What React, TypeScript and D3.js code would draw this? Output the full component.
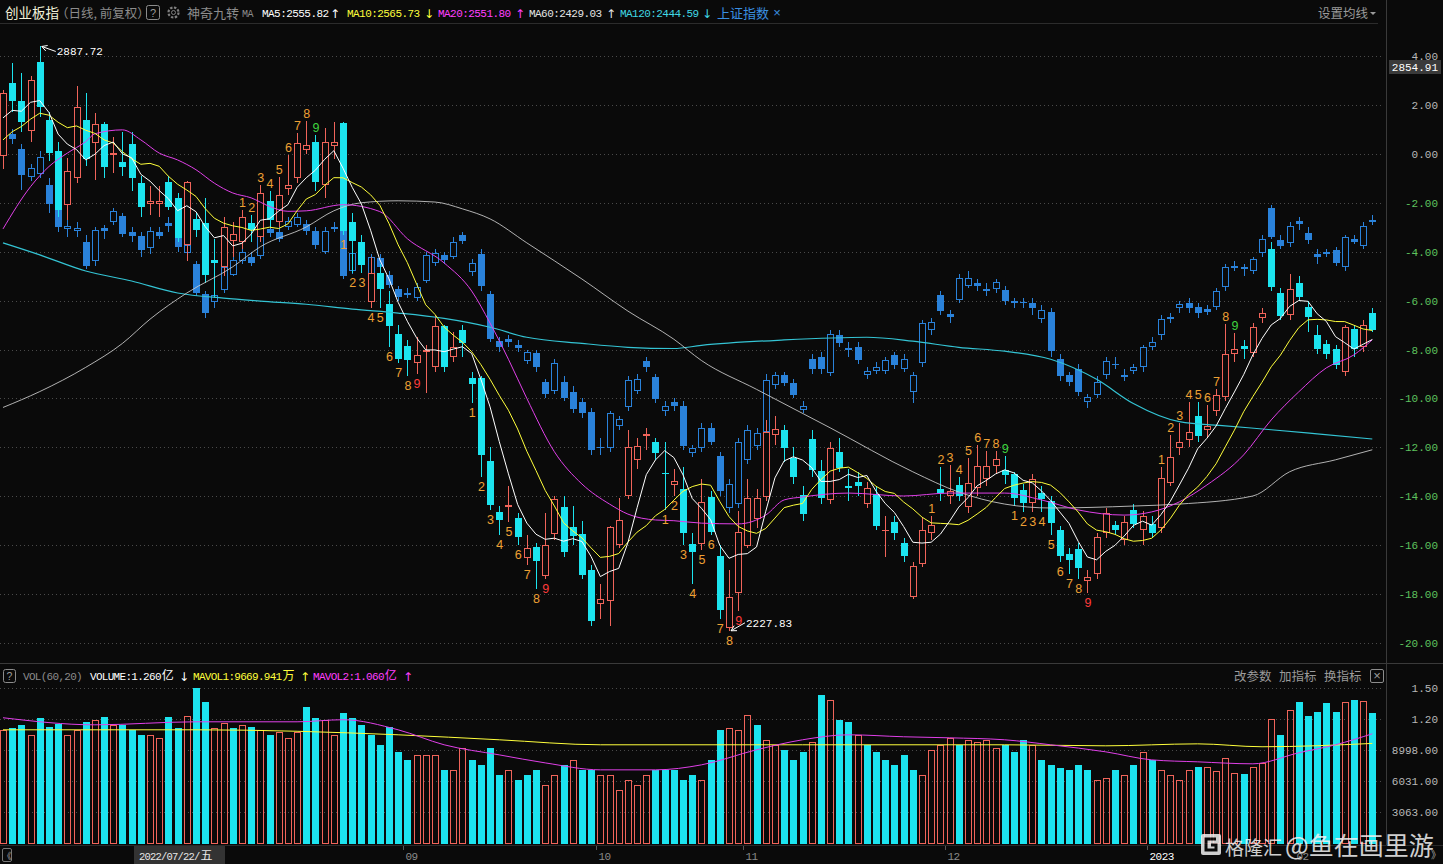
import React, { useEffect, useRef } from 'react';
import * as d3 from 'd3';

// 创业板指 daily bars, [open, high, low, close] as % change vs base
const cybBars: [number, number, number, number][] = [
  [-0.08, 2.6, -0.6, 2.49], [2.89, 3.7, 1.7, 2.14], [2.17, 3.3, 0.9, 1.32], [0.95, 3.2, 0.5, 3.03], [3.74, 4.39, 1.5, 1.91],
  [1.39, 1.7, -0.3, 0.05], [0.12, 0.5, -2.6, -2.29], [-2.11, -0.16, -2.7, -0.71], [-0.97, 2.76, -1.2, 1.91], [1.39, 2.48, -0.5, -0.2],
  [0.44, 1.67, -1.06, 1.21], [1.21, 1.3, -1.0, -0.52], [-0.05, 0.7, -0.8, 0.02], [-0.34, 0.9, -0.9, -0.52], [0.4, 0.9, -1.5, -0.99],
  [-1.2, -0.9, -2.6, -2.18], [-2.04, -1.3, -2.5, -1.91], [-2.04, -1.3, -2.6, -1.91], [-1.16, -0.9, -2.3, -2.18], [-1.79, -1.6, -3.6, -3.45],
  [-3.72, -1.1, -4.4, -1.16], [-2.67, -2.4, -3.4, -3.13], [-2.84, -1.81, -5.3, -4.95], [-4.36, -3.5, -5.9, -4.47], [-4.64, -2.6, -5.0, -3.0],
  [-3.55, -2.8, -4.2, -3.27], [-3.59, -2.31, -3.9, -2.59], [-2.84, -2.5, -3.6, -3.11], [-3.41, -1.29, -3.6, -1.61], [-1.92, -1.53, -3.0, -2.7],
  [-2.79, -0.96, -3.0, -1.7], [-1.43, -0.06, -1.7, -1.27], [-0.98, 0.84, -1.2, 0.43], [0.17, 1.33, 0.0, 0.35], [0.5, 0.76, -1.5, -1.14],
  [-1.26, 1.05, -1.8, 0.5], [0.34, 1.29, -0.2, 0.5], [1.26, 1.32, -3.33, -3.15], [-2.78, -2.4, -4.89, -3.56], [-3.59, -3.3, -4.89, -4.54],
  [-6.05, -4.2, -6.32, -4.87], [-4.87, -4.5, -6.32, -5.53], [-6.14, -5.6, -7.91, -7.05], [-7.37, -7.0, -8.57, -8.37], [-7.86, -7.6, -9.1, -8.41],
  [-8.57, -7.5, -9.02, -8.24], [-8.1, -7.8, -9.79, -8.02], [-8.7, -6.6, -8.9, -7.05], [-7.05, -7.0, -8.9, -8.73], [-8.32, -7.3, -8.5, -7.88],
  [-7.22, -7.0, -8.3, -7.75], [-9.16, -8.9, -10.2, -9.42], [-9.16, -9.1, -13.2, -12.31], [-12.56, -12.0, -14.55, -14.37], [-14.64, -14.4, -15.6, -14.97],
  [-14.45, -13.6, -15.05, -14.35], [-14.89, -14.7, -16.0, -15.67], [-16.51, -15.6, -16.8, -16.13], [-16.08, -15.9, -17.8, -16.65], [-17.28, -14.7, -17.4, -16.0],
  [-15.55, -14.0, -15.8, -14.12], [-14.43, -14.0, -16.5, -16.29], [-15.24, -14.4, -16.0, -15.62], [-15.54, -15.0, -17.4, -17.22], [-17.0, -16.8, -19.3, -19.09],
  [-18.4, -17.6, -19.0, -18.2], [-18.27, -15.2, -19.3, -15.26], [-16.0, -14.08, -16.1, -14.97], [-13.99, -11.3, -14.1, -11.97], [-12.52, -11.6, -12.9, -11.94],
  [-11.55, -11.2, -12.1, -11.45], [-11.78, -11.6, -12.5, -12.23], [-13.05, -11.8, -14.55, -13.1], [-13.54, -12.9, -14.0, -13.37], [-13.7, -12.8, -16.0, -15.49],
  [-15.97, -15.5, -17.6, -16.27], [-15.95, -13.3, -16.2, -14.22], [-14.02, -13.8, -15.6, -15.45], [-16.44, -16.0, -19.0, -18.65], [-19.4, -17.0, -19.5, -18.1],
  [-17.94, -14.6, -18.7, -15.47], [-16.02, -13.3, -16.1, -14.06], [-14.94, -13.7, -15.3, -14.08], [-14.02, -10.9, -14.2, -11.36], [-11.49, -10.7, -11.9, -11.26],
  [-11.29, -11.1, -12.6, -12.01], [-12.42, -12.0, -13.5, -13.22], [-13.95, -13.6, -15.0, -14.74], [-11.67, -11.3, -13.2, -12.92], [-12.95, -12.5, -14.3, -14.07],
  [-14.15, -11.8, -14.3, -12.02], [-12.2, -11.6, -13.0, -12.84], [-13.58, -12.9, -14.2, -13.66], [-13.41, -13.0, -14.0, -13.58], [-14.32, -13.4, -14.5, -13.66],
  [-13.91, -13.6, -15.4, -15.22], [-15.42, -14.8, -16.5, -15.36], [-15.06, -14.8, -15.8, -15.5], [-15.93, -15.7, -16.7, -16.45], [-18.1, -16.7, -18.2, -16.87],
  [-16.79, -14.9, -16.9, -15.39], [-15.5, -14.8, -15.8, -15.19], [-13.69, -12.82, -14.2, -13.86], [-13.99, -12.74, -14.3, -13.79], [-13.54, -13.2, -14.2, -13.99],
  [-14.45, -12.45, -14.7, -13.46], [-13.66, -11.9, -14.0, -12.76], [-13.3, -12.17, -13.6, -12.76], [-12.76, -12.17, -13.1, -12.48], [-12.92, -12.37, -13.5, -13.14],
  [-13.09, -13.0, -14.38, -14.07], [-13.74, -13.5, -14.66, -14.29], [-14.29, -13.1, -14.66, -13.28], [-13.86, -13.6, -14.66, -14.12], [-14.21, -14.0, -15.6, -15.11],
  [-15.36, -15.2, -16.67, -16.43], [-16.37, -16.1, -17.16, -16.62], [-16.17, -15.9, -17.37, -16.95], [-17.47, -17.0, -17.94, -17.31], [-17.19, -15.5, -17.4, -15.68],
  [-15.5, -14.5, -15.7, -14.7], [-15.19, -15.0, -15.6, -15.39], [-15.8, -14.8, -16.0, -15.06], [-14.56, -14.3, -15.3, -15.14], [-15.39, -14.6, -16.0, -14.81],
  [-15.14, -14.8, -15.7, -15.5], [-15.3, -12.82, -15.5, -13.25], [-13.46, -11.5, -13.6, -12.39], [-12.02, -11.0, -12.3, -11.77], [-11.69, -10.16, -12.0, -11.36],
  [-10.7, -10.16, -11.8, -11.52], [-11.28, -10.25, -11.6, -11.12], [-10.5, -9.63, -10.7, -9.88], [-9.96, -6.97, -10.1, -8.2], [-8.2, -7.34, -8.5, -7.96],
  [-7.86, -7.6, -8.4, -7.99], [-8.15, -6.9, -8.3, -7.06], [-6.73, -6.3, -6.9, -6.52], [-3.89, -3.6, -5.6, -5.45], [-5.7, -5.5, -6.8, -6.63],
  [-6.6, -4.9, -6.8, -5.53], [-5.28, -5.0, -6.0, -5.86], [-6.27, -6.0, -7.3, -6.68], [-7.42, -7.0, -8.2, -7.99], [-7.79, -7.6, -8.4, -8.2],
  [-7.99, -7.8, -8.8, -8.65], [-8.9, -7.0, -9.1, -7.09], [-7.17, -7.0, -8.3, -7.99], [-7.9, -6.8, -8.1, -7.0], [-6.51, -6.3, -7.3, -7.22],
];

// 上证指数 overlay bars, [open, high, low, close] as % change vs its base
const shBars: [number, number, number, number][] = [
  [0.2, 0.7, 0.0, 0.5], [0.82, 1.0, 0.4, 0.6], [0.2, 0.4, -1.47, -0.86], [-0.93, -0.4, -1.1, -0.59], [-0.82, 0.1, -1.0, -0.11],
  [-1.27, -1.0, -2.4, -2.06], [-2.29, -2.1, -3.2, -3.0], [-3.08, -2.7, -3.4, -2.97], [-3.17, -2.8, -3.4, -3.04], [-3.6, -3.3, -4.7, -4.57],
  [-4.38, -3.0, -4.6, -3.11], [-3.05, -2.9, -3.5, -3.15], [-2.77, -2.2, -2.9, -2.33], [-2.54, -2.4, -3.4, -3.27], [-3.19, -3.0, -3.6, -3.34],
  [-3.35, -3.2, -4.2, -3.93], [-3.86, -3.0, -4.1, -3.15], [-3.2, -3.0, -3.5, -3.35], [-2.84, -2.6, -3.2, -2.97], [-3.45, -3.3, -4.0, -3.82],
  [-4.06, -3.5, -4.2, -3.72], [-4.5, -4.4, -5.8, -5.7], [-5.74, -5.6, -6.7, -6.52], [-6.04, -5.6, -6.3, -5.77], [-5.56, -4.5, -5.7, -4.64],
  [-4.95, -4.2, -5.0, -4.34], [-4.4, -3.8, -4.5, -4.0], [-4.2, -4.0, -4.6, -4.47], [-4.16, -2.9, -4.3, -3.23], [-3.06, -2.9, -3.4, -3.23],
  [-3.19, -3.0, -3.6, -3.47], [-2.98, -2.6, -3.1, -2.74], [-2.9, -2.4, -3.0, -2.6], [-2.85, -2.7, -3.3, -3.15], [-3.15, -3.0, -3.9, -3.72],
  [-4.0, -3.0, -4.1, -3.15], [-3.08, -2.8, -3.2, -3.0], [-3.15, -3.0, -5.1, -4.99], [-4.79, -3.9, -4.9, -4.05], [-4.21, -4.0, -4.7, -4.54],
  [-4.95, -4.1, -5.1, -4.21], [-4.26, -4.1, -4.8, -4.62], [-4.95, -4.8, -5.5, -5.36], [-5.53, -5.4, -6.0, -5.86], [-5.69, -5.5, -5.9, -5.78],
  [-5.9, -5.3, -6.0, -5.45], [-5.2, -4.0, -5.3, -4.13], [-4.46, -3.9, -4.6, -4.05], [-4.13, -4.0, -4.5, -4.34], [-4.21, -3.4, -4.3, -3.59],
  [-3.31, -3.2, -3.7, -3.56], [-4.82, -4.3, -5.0, -4.46], [-4.08, -3.9, -5.6, -5.41], [-5.72, -5.6, -7.7, -7.58], [-7.66, -7.5, -8.1, -7.91],
  [-7.58, -7.4, -7.9, -7.71], [-7.83, -7.6, -8.1, -7.94], [-8.45, -8.0, -8.6, -8.1], [-8.16, -8.0, -8.9, -8.7], [-9.31, -9.2, -10.0, -9.8],
  [-9.69, -8.4, -9.8, -8.57], [-9.31, -9.1, -10.1, -9.99], [-9.72, -9.5, -10.6, -10.44], [-10.13, -10.0, -10.8, -10.59], [-10.54, -10.4, -12.3, -12.1],
  [-11.97, -11.6, -12.3, -12.0], [-12.04, -10.5, -12.2, -10.61], [-11.11, -10.7, -11.3, -10.85], [-10.34, -9.1, -10.5, -9.24], [-9.69, -9.0, -9.8, -9.19],
  [-8.49, -8.3, -8.9, -8.73], [-9.14, -9.0, -10.2, -10.01], [-10.5, -10.1, -10.7, -10.3], [-10.13, -10.0, -10.5, -10.29], [-10.29, -10.1, -12.1, -11.94],
  [-12.23, -11.9, -12.4, -12.02], [-12.02, -11.0, -12.2, -11.19], [-11.19, -11.0, -11.9, -11.77], [-12.35, -12.2, -14.0, -13.79], [-14.49, -13.3, -14.7, -13.5],
  [-14.32, -11.6, -14.5, -11.77], [-12.51, -11.1, -12.7, -11.28], [-11.94, -11.2, -12.1, -11.41], [-11.36, -9.0, -11.5, -9.23], [-9.47, -8.9, -9.6, -9.06],
  [-9.06, -8.9, -9.5, -9.39], [-9.39, -9.2, -10.0, -9.88], [-10.46, -10.1, -10.6, -10.29], [-8.4, -8.2, -9.0, -8.81], [-8.32, -8.1, -9.0, -8.81],
  [-8.98, -7.2, -9.1, -7.37], [-7.42, -7.2, -7.9, -7.75], [-7.95, -7.7, -8.3, -8.02], [-7.91, -7.7, -8.6, -8.44], [-9.06, -8.7, -9.2, -8.86],
  [-8.86, -8.5, -9.0, -8.73], [-8.86, -8.3, -9.0, -8.44], [-8.24, -8.1, -8.8, -8.65], [-8.81, -8.2, -8.9, -8.37], [-9.72, -8.9, -10.2, -9.03],
  [-8.54, -6.8, -8.7, -6.92], [-7.22, -6.7, -7.4, -6.89], [-5.77, -5.6, -6.6, -6.43], [-6.56, -6.4, -6.9, -6.68], [-5.97, -4.9, -6.1, -5.08],
  [-5.41, -4.8, -5.5, -5.08], [-5.28, -5.1, -5.6, -5.41], [-5.53, -5.3, -5.8, -5.61], [-5.53, -5.1, -5.7, -5.24], [-5.58, -5.4, -6.2, -6.02],
  [-6.02, -5.9, -6.3, -6.1], [-6.05, -5.9, -6.3, -6.1], [-6.1, -5.9, -6.6, -6.3], [-6.76, -6.2, -6.9, -6.4], [-6.48, -6.3, -8.3, -8.07],
  [-8.4, -8.2, -9.3, -9.09], [-9.03, -8.9, -9.5, -9.31], [-8.81, -8.6, -9.9, -9.72], [-10.13, -9.8, -10.4, -9.96], [-9.88, -9.1, -10.0, -9.31],
  [-9.03, -8.3, -9.2, -8.49], [-8.58, -8.3, -8.8, -8.62], [-9.06, -8.8, -9.3, -9.14], [-8.86, -8.6, -9.0, -8.73], [-8.73, -7.8, -8.9, -7.91],
  [-7.88, -7.5, -8.0, -7.68], [-7.42, -6.6, -7.6, -6.76], [-6.76, -6.5, -6.9, -6.68], [-6.3, -6.0, -6.5, -6.14], [-6.1, -5.9, -6.5, -6.3],
  [-6.27, -6.1, -6.7, -6.51], [-6.35, -6.2, -6.6, -6.46], [-6.27, -5.5, -6.4, -5.61], [-5.45, -4.5, -5.6, -4.62], [-4.58, -4.4, -4.8, -4.66],
  [-4.62, -4.5, -5.0, -4.71], [-4.79, -4.2, -4.9, -4.29], [-4.05, -3.3, -4.2, -3.47], [-2.21, -2.1, -3.5, -3.39], [-3.51, -3.3, -3.9, -3.77],
  [-3.64, -2.8, -3.8, -2.95], [-2.74, -2.6, -3.1, -2.87], [-3.23, -3.0, -3.7, -3.51], [-4.1, -3.9, -4.5, -4.21], [-4.02, -3.9, -4.2, -4.08],
  [-3.93, -3.8, -4.6, -4.46], [-4.62, -3.3, -4.8, -3.39], [-3.47, -3.3, -3.7, -3.6], [-3.77, -2.8, -3.9, -2.95], [-2.79, -2.5, -2.9, -2.69],
];

// daily volume, 万
const volumes: number[] = [
  10980, 11180, 11460, 10500, 12140, 11270, 11560, 10500, 10980, 11750,
  11950, 12240, 11460, 11460, 10980, 10500, 10500, 10210, 12240, 11180,
  12330, 15030, 13680, 11180, 11660, 11180, 11460, 11270, 10980, 10500,
  10790, 10210, 10790, 13200, 12140, 11950, 10500, 12620, 12140, 11460,
  10500, 9540, 11270, 8860, 8090, 8570, 8570, 8570, 7130, 7130,
  9250, 8090, 7610, 9250, 6650, 7130, 6170, 6650, 7130, 5680,
  6650, 7610, 8090, 7130, 7130, 6650, 6650, 5200, 6170, 5680,
  6650, 7130, 7130, 7130, 6170, 6650, 6170, 8090, 10980, 11180,
  10980, 12430, 11460, 10020, 9540, 9060, 8090, 8860, 9830, 14350,
  13870, 11950, 11750, 10500, 9540, 8860, 8090, 7610, 8570, 7130,
  6650, 9060, 9540, 10210, 9540, 10020, 9830, 10020, 9250, 9540,
  8860, 10020, 9540, 8090, 7610, 7320, 7130, 7610, 7130, 6170,
  6360, 7130, 6650, 7610, 8860, 8090, 7130, 6650, 6170, 7130,
  7420, 7420, 7030, 8290, 6840, 6740, 7420, 7800, 12040, 10500,
  12910, 13680, 12330, 12720, 13580, 12720, 13680, 13870, 13780, 12620,
];

// closes of the sessions just before the window (for MA5 / MA10)
const priorCloses = [-1.2, -0.8, 0.0, -0.5, 0.85, 0.6, 1.5, 1.2, 1.56];

// longer averages: [bar index, %]
const ma20Points: [number, number][] = [
  [0, -3.07], [3, -1.34], [5, -0.52], [7, 0.03], [9, 0.5], [10, 0.82], [13, 0.98], [15, 0.57], [17, 0.03], [19, -0.25],
  [21, -0.65], [23, -1.2], [25, -1.6], [27, -1.8], [29, -2.15], [31, -2.35], [33, -2.33], [37, -2.08], [41, -2.36], [44, -3.47],
  [48, -4.46], [51, -5.61], [53, -6.92], [55, -8.4], [57, -10.0], [60, -12.18], [63, -13.5], [66, -14.32], [68, -14.73], [71, -14.97],
  [73, -15.0], [76, -15.1], [80, -15.13], [83, -14.77], [85, -14.15], [87, -14.03], [92, -13.87], [98, -13.99], [103, -13.87], [109, -13.87],
  [113, -14.15], [117, -14.56], [122, -14.77], [125, -14.64], [128, -14.23], [131, -13.54], [135, -12.31], [138, -10.88], [141, -9.73], [144, -8.75],
  [147, -8.22], [149, -7.6],
];
const ma60Points: [number, number][] = [
  [0, -10.37], [4, -9.72], [9, -8.73], [13, -7.75], [16, -6.76], [20, -5.69], [25, -4.62], [28, -3.8], [33, -2.99], [36, -2.33],
  [39, -2.0], [43, -1.92], [47, -1.97], [50, -2.25], [53, -2.66], [57, -3.64], [63, -5.12], [68, -6.43], [73, -7.58], [76, -8.45],
  [82, -9.63], [90, -11.2], [99, -13.0], [104, -13.83], [109, -14.32], [114, -14.48], [123, -14.4], [128, -14.32], [136, -13.99], [140, -13.0],
  [145, -12.51], [149, -12.1],
];
const ma120Points: [number, number][] = [
  [0, -3.64], [4, -4.13], [9, -4.79], [14, -5.2], [19, -5.69], [24, -5.9], [28, -6.02], [33, -6.15], [38, -6.35], [43, -6.51],
  [48, -6.73], [53, -7.09], [57, -7.5], [63, -7.75], [68, -7.91], [73, -7.96], [76, -7.83], [85, -7.61], [94, -7.5], [99, -7.66],
  [104, -7.91], [109, -8.07], [114, -8.4], [119, -9.22], [123, -10.21], [128, -10.95], [133, -11.12], [138, -11.28], [143, -11.45], [149, -11.66],
];
const mavol1Points: [number, number][] = [
  [0, 10980], [21, 10980], [43, 10500], [54, 10020], [65, 9540], [87, 9540], [109, 9540], [120, 9440], [130, 9630], [137, 9350], [149, 9670],
];
const mavol2Points: [number, number][] = [
  [0, 12140], [10, 11460], [21, 11750], [32, 11750], [37, 11950], [43, 10980], [48, 9540], [54, 8570], [59, 7800], [65, 7130],
  [71, 7130], [76, 7610], [82, 9060], [87, 10020], [92, 10500], [98, 10310], [103, 10210], [109, 10020], [114, 9540], [120, 8860],
  [125, 8090], [130, 7900], [136, 7710], [141, 8770], [145, 9540], [149, 10600],
];

const pctTicks = [4, 2, 0, -2, -4, -6, -8, -10, -12, -14, -16, -18, -20];
const volTicks = [15000, 12000, 8998, 6031, 3063];
const volTickLabels = ['1.50', '1.20', '8998.00', '6031.00', '3063.00'];
const monthTicks: [number, string][] = [[44, '09'], [65, '10'], [81, '11'], [103, '12'], [125, '2023'], [141, '02']];
// 神奇九转: first bar of each 9-count and its side
const tdSeqs: [number, string][] = [[26, 'sell'], [37, 'buy'], [51, 'buy'], [72, 'buy'], [101, 'sell'], [110, 'buy'], [126, 'sell']];
const extremes = [
  { index: 4, label: '2887.72', kind: 'high' },
  { index: 79, label: '2227.83', kind: 'low' },
];

const W = 1443;
const H = 864;
const BG = '#0a0a0a';
const RED = '#f0645a';
const CYAN = '#1ce4ef';
const BLUE = '#2a82da';
const MONO = "'Liberation Mono', 'DejaVu Sans Mono', monospace";
const CJK = "'Noto Sans CJK SC', 'Noto Sans', sans-serif";
const SANS = "'Liberation Sans', Arial, sans-serif";
const ARROW = "'DejaVu Sans', sans-serif";

export default function App() {
  const svgRef = useRef<SVGSVGElement>(null);

  useEffect(() => {
    if (!svgRef.current) return;
    document.body.style.margin = '0';
    document.body.style.background = BG;

    const svg = d3.select(svgRef.current);
    svg.selectAll('*').remove();
    svg.append('rect').attr('width', W).attr('height', H).attr('fill', BG);

    const n = cybBars.length;
    const x = d3.scaleLinear().domain([0, n - 1]).range([3, 1372.3]);
    const y = d3.scaleLinear().domain([4, -20]).range([56, 643]);
    const yv = d3.scaleLinear().domain([0, 15000]).range([844, 688]);

    const text = (g: any, tx: number, ty: number, s: string, o: any = {}) => {
      const t = g.append('text')
        .attr('x', tx).attr('y', ty)
        .attr('fill', o.fill || '#999')
        .style('font-family', o.font || MONO)
        .style('font-size', (o.size || 11) + 'px')
        .attr('text-anchor', o.anchor || 'start')
        .text(s);
      if (o.ls !== undefined) t.style('letter-spacing', o.ls + 'px');
      if (o.len) t.attr('textLength', o.len).attr('lengthAdjust', 'spacingAndGlyphs');
      return t;
    };
    // one text element: tight mono digits followed by a CJK unit
    const textParts = (g: any, tx: number, ty: number, parts: any[], fill: string) => {
      const t = g.append('text').attr('x', tx).attr('y', ty).attr('fill', fill);
      parts.forEach((p) => {
        const ts = t.append('tspan')
          .style('font-family', p.font || MONO)
          .style('font-size', (p.size || 11) + 'px')
          .text(p.s);
        if (p.ls !== undefined) ts.style('letter-spacing', p.ls + 'px');
        if (p.dx) ts.attr('dx', p.dx);
      });
      return t;
    };

    // frame lines
    const frame = svg.append('g').attr('shape-rendering', 'crispEdges');
    frame.append('line').attr('x1', 0).attr('x2', 1378).attr('y1', 23.5).attr('y2', 23.5).attr('stroke', '#2c2c2c');
    frame.append('line').attr('x1', 1386.5).attr('x2', 1386.5).attr('y1', 0).attr('y2', 845).attr('stroke', '#3a3a3a');
    frame.append('line').attr('x1', 0).attr('x2', W).attr('y1', 663.5).attr('y2', 663.5).attr('stroke', '#3a3a3a');
    frame.append('line').attr('x1', 0).attr('x2', W).attr('y1', 845.5).attr('y2', 845.5).attr('stroke', '#2a2a2a');

    // grids
    const grid = svg.append('g').attr('shape-rendering', 'crispEdges');
    pctTicks.forEach((t) => {
      grid.append('line').attr('x1', 0).attr('x2', 1384)
        .attr('y1', Math.round(y(t)) + 0.5).attr('y2', Math.round(y(t)) + 0.5)
        .attr('stroke', '#4a4a4a').attr('stroke-dasharray', '1,3');
    });
    volTicks.forEach((t) => {
      grid.append('line').attr('x1', 0).attr('x2', 1384)
        .attr('y1', Math.round(yv(t)) + 0.5).attr('y2', Math.round(yv(t)) + 0.5)
        .attr('stroke', '#4a4a4a').attr('stroke-dasharray', '1,3');
    });

    // right axis labels
    const axis = svg.append('g');
    pctTicks.forEach((t) => {
      text(axis, 1438, Math.round(y(t)) + 4, t.toFixed(2), {
        anchor: 'end', size: 11, fill: t < 0 ? '#5ec25e' : '#b8b8b8',
      });
    });
    axis.append('rect').attr('x', 1389).attr('y', 60).attr('width', 52).attr('height', 14).attr('fill', '#3a3a3a');
    text(axis, 1438, 71, '2854.91', { anchor: 'end', size: 11, fill: '#ffffff' });
    volTicks.forEach((t, i) => {
      text(axis, 1438, Math.round(yv(t)) + 4, volTickLabels[i], { anchor: 'end', size: 11, fill: '#b8b8b8' });
    });

    // candles
    const drawCandles = (g: any, bars: [number, number, number, number][], up: string, down: string) => {
      bars.forEach(([o, h, l, c], i) => {
        const cx = Math.round(x(i));
        const isUp = c >= o;
        const color = isUp ? up : down;
        const yt = Math.round(y(Math.max(o, c)));
        const yb = Math.max(Math.round(y(Math.min(o, c))), yt + 1);
        g.append('line').attr('x1', cx + 0.5).attr('x2', cx + 0.5)
          .attr('y1', Math.round(y(h))).attr('y2', yt).attr('stroke', color);
        g.append('line').attr('x1', cx + 0.5).attr('x2', cx + 0.5)
          .attr('y1', yb).attr('y2', Math.round(y(l))).attr('stroke', color);
        if (yb - yt <= 2) {
          g.append('rect').attr('x', cx - 3).attr('y', yt).attr('width', 7).attr('height', Math.max(1, yb - yt)).attr('fill', color);
        } else if (isUp) {
          g.append('rect').attr('x', cx - 2.5).attr('y', yt + 0.5).attr('width', 6).attr('height', yb - yt - 1)
            .attr('fill', BG).attr('stroke', color);
        } else {
          g.append('rect').attr('x', cx - 3).attr('y', yt).attr('width', 7).attr('height', yb - yt).attr('fill', color);
        }
      });
    };
    drawCandles(svg.append('g').attr('shape-rendering', 'crispEdges'), shBars, BLUE, BLUE);
    drawCandles(svg.append('g').attr('shape-rendering', 'crispEdges'), cybBars, RED, CYAN);

    // moving averages
    const closes = [...priorCloses, ...cybBars.map((b) => b[3])];
    const movingAvg = (len: number) => cybBars.map((_, i) => {
      const j = i + priorCloses.length;
      return d3.mean(closes.slice(Math.max(0, j - len + 1), j + 1)) as number;
    });
    const lineIdx = d3.line<number>().x((_, i) => x(i)).y((d) => y(d));
    const linePts = d3.line<[number, number]>().x((d) => x(d[0])).y((d) => y(d[1])).curve(d3.curveMonotoneX);
    const maG = svg.append('g').attr('fill', 'none');
    maG.append('path').attr('d', linePts(ma120Points)).attr('stroke', '#34c4d4').attr('stroke-width', 1.2);
    maG.append('path').attr('d', linePts(ma60Points)).attr('stroke', '#cfcfcf').attr('stroke-width', 1).attr('opacity', 0.85);
    maG.append('path').attr('d', linePts(ma20Points)).attr('stroke', '#e040e8').attr('stroke-width', 1);
    maG.append('path').attr('d', lineIdx(movingAvg(10))).attr('stroke', '#ffff3c').attr('stroke-width', 1);
    maG.append('path').attr('d', lineIdx(movingAvg(5))).attr('stroke', '#ffffff').attr('stroke-width', 1);

    // 神奇九转 numbers
    const td = svg.append('g');
    tdSeqs.forEach(([start, side]) => {
      for (let k = 0; k < 9; k++) {
        const i = start + k;
        const b = cybBars[i];
        const last = k === 8;
        const fill = last ? (side === 'sell' ? '#3fd43f' : '#ff3b3b') : '#eea034';
        const ty = side === 'sell' ? y(b[1]) - 3 : y(b[2]) + 14;
        text(td, x(i) + 0.5, ty, String(k + 1), { anchor: 'middle', size: 12.5, font: SANS, fill });
      }
    });

    // high / low marks
    extremes.forEach((e) => {
      const b = cybBars[e.index];
      const tx = x(e.index) + 2;
      const ty = e.kind === 'high' ? y(b[1]) : y(b[2]);
      const lx = tx + 14;
      const ly = e.kind === 'high' ? ty + 5 : ty - 8;
      svg.append('line').attr('x1', tx).attr('y1', ty).attr('x2', lx).attr('y2', ly).attr('stroke', '#fff');
      const ang = Math.atan2(ly - ty, lx - tx);
      const a1 = ang + 0.5;
      const a2 = ang - 0.5;
      svg.append('path')
        .attr('d', `M${tx + 6 * Math.cos(a1)},${ty + 6 * Math.sin(a1)}L${tx},${ty}L${tx + 6 * Math.cos(a2)},${ty + 6 * Math.sin(a2)}`)
        .attr('stroke', '#fff').attr('fill', 'none');
      text(svg, lx + 1, ly + 4, e.label, { size: 11, fill: '#ffffff' });
    });

    // volume bars, coloured by close vs previous close
    const vg = svg.append('g').attr('shape-rendering', 'crispEdges');
    volumes.forEach((v, i) => {
      const prev = i === 0 ? priorCloses[priorCloses.length - 1] : cybBars[i - 1][3];
      const isUp = cybBars[i][3] >= prev;
      const cx = Math.round(x(i));
      const yt = Math.round(yv(v));
      const yb = 844;
      if (isUp) {
        vg.append('rect').attr('x', cx - 2.5).attr('y', yt + 0.5).attr('width', 6).attr('height', yb - yt - 1)
          .attr('fill', 'none').attr('stroke', RED);
      } else {
        vg.append('rect').attr('x', cx - 3).attr('y', yt).attr('width', 7).attr('height', yb - yt).attr('fill', CYAN);
      }
    });
    const lineVol = d3.line<[number, number]>().x((d) => x(d[0])).y((d) => yv(d[1])).curve(d3.curveMonotoneX);
    svg.append('path').attr('d', lineVol(mavol1Points)).attr('stroke', '#ffff3c').attr('fill', 'none');
    svg.append('path').attr('d', lineVol(mavol2Points)).attr('stroke', '#e040e8').attr('fill', 'none');

    // header
    const hd = svg.append('g');
    text(hd, 5, 18, '创业板指', { font: CJK, size: 13.5, fill: '#f2f2dc' });
    text(hd, 56, 18, '（日线, 前复权）', { font: CJK, size: 12.5, fill: '#8c8c8c' });
    hd.append('rect').attr('x', 146.5).attr('y', 5.5).attr('width', 13).attr('height', 14).attr('rx', 2)
      .attr('fill', 'none').attr('stroke', '#8c8c8c');
    text(hd, 153, 17, '?', { font: SANS, size: 11, fill: '#9c9c9c', anchor: 'middle' });
    hd.append('circle').attr('cx', 173.5).attr('cy', 12.5).attr('r', 5).attr('fill', 'none')
      .attr('stroke', '#808080').attr('stroke-width', 2.2).attr('stroke-dasharray', '2.4,1.5');
    hd.append('circle').attr('cx', 173.5).attr('cy', 12.5).attr('r', 2).attr('fill', 'none').attr('stroke', '#808080');
    text(hd, 187, 18, '神奇九转', { font: CJK, size: 13, fill: '#8c8c8c' });
    text(hd, 242, 17, 'MA', { size: 10, fill: '#8c8c8c', ls: -0.4 });
    const maItems = [
      { s: 'MA5:2555.82', x: 262, c: '#ffffff', arrow: '↑', ax: 335 },
      { s: 'MA10:2565.73', x: 347, c: '#ffff3c', arrow: '↓', ax: 429 },
      { s: 'MA20:2551.80', x: 438, c: '#ff40ff', arrow: '↑', ax: 520 },
      { s: 'MA60:2429.03', x: 529, c: '#e4e4e4', arrow: '↑', ax: 611 },
      { s: 'MA120:2444.59', x: 620, c: '#40d8e4', arrow: '↓', ax: 707 },
    ];
    maItems.forEach((m) => {
      text(hd, m.x, 17, m.s, { size: 11, fill: m.c, ls: -0.55 });
      text(hd, m.ax, 18, m.arrow, { font: ARROW, size: 12, fill: m.c, anchor: 'middle' });
    });
    text(hd, 717, 18, '上证指数', { font: CJK, size: 13, fill: '#3a8fe0' });
    text(hd, 777, 17, '×', { font: SANS, size: 13, fill: '#3a8fe0', anchor: 'middle' });
    text(hd, 1318, 18, '设置均线', { font: CJK, size: 12.5, fill: '#9a9a9a' });
    hd.append('path').attr('d', 'M1370,12L1376,12L1373,15Z').attr('fill', '#9a9a9a');

    // volume header
    const vh = svg.append('g');
    vh.append('rect').attr('x', 3.5).attr('y', 669.5).attr('width', 12).attr('height', 13).attr('rx', 2)
      .attr('fill', 'none').attr('stroke', '#8c8c8c');
    text(vh, 9.5, 680, '?', { font: SANS, size: 10.5, fill: '#9c9c9c', anchor: 'middle' });
    text(vh, 23, 680, 'VOL(60,20)', { size: 11, fill: '#8c8c8c', ls: -0.7 });
    textParts(vh, 90, 680, [{ s: 'VOLUME:1.260', ls: -0.7 }, { s: '亿', font: CJK, size: 12, dx: 1 }], '#ffffff');
    text(vh, 184, 681, '↓', { font: ARROW, size: 12, fill: '#ffffff', anchor: 'middle' });
    textParts(vh, 193, 680, [{ s: 'MAVOL1:9669.941', ls: -0.7 }, { s: '万', font: CJK, size: 12, dx: 1 }], '#ffff3c');
    text(vh, 305, 681, '↑', { font: ARROW, size: 12, fill: '#ffff3c', anchor: 'middle' });
    textParts(vh, 313, 680, [{ s: 'MAVOL2:1.060', ls: -0.7 }, { s: '亿', font: CJK, size: 12, dx: 1 }], '#ff40ff');
    text(vh, 408, 681, '↑', { font: ARROW, size: 12, fill: '#ff40ff', anchor: 'middle' });
    text(vh, 1234, 681, '改参数', { font: CJK, size: 12.5, fill: '#9a9a9a' });
    text(vh, 1279, 681, '加指标', { font: CJK, size: 12.5, fill: '#9a9a9a' });
    text(vh, 1324, 681, '换指标', { font: CJK, size: 12.5, fill: '#9a9a9a' });
    vh.append('rect').attr('x', 1370.5).attr('y', 669.5).attr('width', 13).attr('height', 13).attr('rx', 1.5)
      .attr('fill', 'none').attr('stroke', '#8c8c8c');
    text(vh, 1377, 680, '×', { font: SANS, size: 13, fill: '#9c9c9c', anchor: 'middle' });

    // date axis
    const da = svg.append('g');
    da.append('rect').attr('x', 2.5).attr('y', 848.5).attr('width', 9).attr('height', 13).attr('rx', 1.5)
      .attr('fill', 'none').attr('stroke', '#777');
    text(da, 7, 859, '《', { font: CJK, size: 9, fill: '#aaa', anchor: 'middle' });
    da.append('rect').attr('x', 134).attr('y', 846).attr('width', 91).attr('height', 18).attr('fill', '#333');
    textParts(da, 139, 860, [{ s: '2022/07/22/', size: 10.5, ls: -0.8 }, { s: '五', font: CJK, size: 12, dx: 1 }], '#e8e8e8');
    monthTicks.forEach(([i, s]) => {
      const tx = Math.round(x(i) - 4.6) + 0.5;
      da.append('line').attr('x1', tx).attr('x2', tx).attr('y1', 846).attr('y2', 850).attr('stroke', '#555');
      text(da, tx + 2, 860, s, { size: 11, fill: s === '2023' ? '#ffffff' : '#8a8a8a', ls: -0.5 });
    });
    text(da, 1436, 859, '》', { font: CJK, size: 10, fill: '#aaa', anchor: 'middle' });

    // watermark
    const wm = svg.append('g').attr('opacity', 0.85);
    wm.append('rect').attr('x', 1201).attr('y', 834).attr('width', 20).attr('height', 21).attr('rx', 2).attr('fill', '#f2f2f2');
    wm.append('path').attr('d', 'M1216,839 L1206,839 L1206,850 L1216,850 L1216,845 L1211,845')
      .attr('fill', 'none').attr('stroke', '#0a0a0a').attr('stroke-width', 3);
    textParts(wm, 1225, 855, [
      { s: '格隆汇', font: CJK, size: 19 },
      { s: '@鱼在画里游', font: CJK, size: 25, dx: 3 },
    ], '#f2f2f2');
  }, []);

  return <svg ref={svgRef} width={W} height={H} style={{ display: 'block' }} />;
}
